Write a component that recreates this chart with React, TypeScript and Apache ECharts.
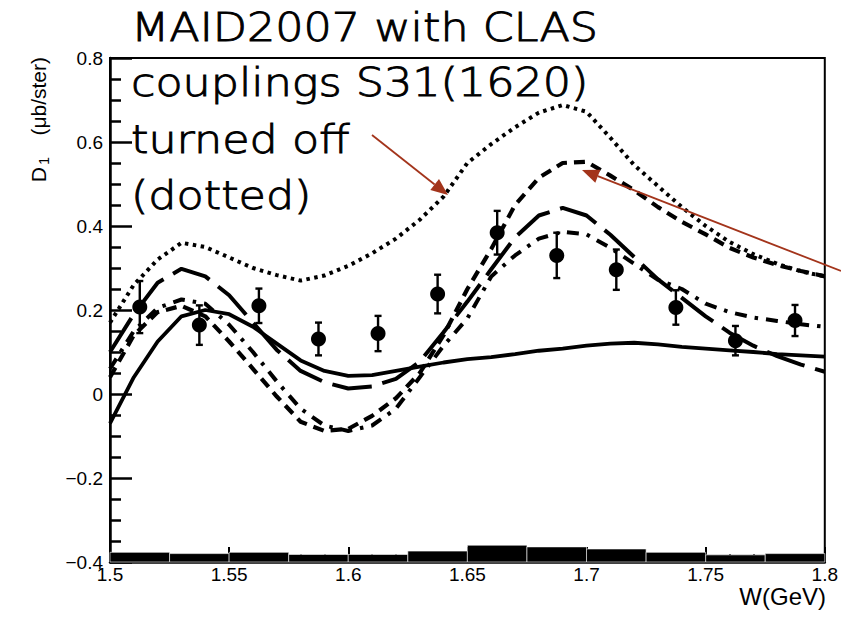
import React, { useEffect, useRef } from 'react';
import * as echarts from 'echarts';

// W grid (GeV) for the model curves
const W = [1.50, 1.51, 1.52, 1.53, 1.54, 1.55, 1.56, 1.57, 1.58, 1.59, 1.60, 1.61, 1.62, 1.63, 1.64, 1.65,
  1.66, 1.67, 1.68, 1.69, 1.70, 1.71, 1.72, 1.73, 1.74, 1.75, 1.76, 1.77, 1.78, 1.79, 1.80];

const solidCurve = [-0.07, 0.04, 0.125, 0.185, 0.2, 0.19, 0.16, 0.12, 0.08, 0.055, 0.043, 0.045, 0.055, 0.065, 0.075, 0.083,
  0.088, 0.095, 0.103, 0.108, 0.115, 0.12, 0.122, 0.118, 0.112, 0.108, 0.104, 0.1, 0.095, 0.092, 0.089];
const longDashCurve = [0.1, 0.19, 0.265, 0.298, 0.28, 0.235, 0.17, 0.105, 0.055, 0.028, 0.013, 0.018, 0.036, 0.077, 0.147, 0.22,
  0.297, 0.373, 0.425, 0.443, 0.425, 0.379, 0.326, 0.273, 0.229, 0.185, 0.146, 0.115, 0.09, 0.07, 0.053];
const dashedCurve = [0.04, 0.14, 0.195, 0.21, 0.185, 0.125, 0.06, -0.006, -0.066, -0.088, -0.083, -0.052, -0.01, 0.05, 0.14, 0.25,
  0.345, 0.45, 0.515, 0.55, 0.553, 0.52, 0.485, 0.445, 0.41, 0.38, 0.348, 0.325, 0.307, 0.293, 0.28];
const dashDotCurve = [0.06, 0.15, 0.205, 0.225, 0.215, 0.165, 0.1, 0.03, -0.035, -0.075, -0.088, -0.075, -0.035, 0.04, 0.115, 0.18,
  0.28, 0.33, 0.37, 0.386, 0.38, 0.348, 0.31, 0.272, 0.25, 0.215, 0.195, 0.182, 0.174, 0.166, 0.16];
const dottedCurve = [0.17, 0.26, 0.32, 0.36, 0.35, 0.325, 0.3, 0.283, 0.27, 0.282, 0.305, 0.335, 0.37, 0.415, 0.47, 0.55,
  0.595, 0.635, 0.67, 0.688, 0.672, 0.61, 0.545, 0.495, 0.445, 0.4, 0.362, 0.333, 0.31, 0.292, 0.28];

// CLAS data points
const dataW = [1.5125, 1.5375, 1.5625, 1.5875, 1.6125, 1.6375, 1.6625, 1.6875, 1.7125, 1.7375, 1.7625, 1.7875];
const dataD1 = [0.207, 0.164, 0.21, 0.131, 0.144, 0.238, 0.384, 0.33, 0.296, 0.206, 0.127, 0.175];
const dataErr = [0.062, 0.047, 0.041, 0.039, 0.042, 0.046, 0.052, 0.054, 0.048, 0.041, 0.035, 0.037];

// systematic error band (bins of 0.025 GeV)
const sysLow = [1.5, 1.525, 1.55, 1.575, 1.6, 1.625, 1.65, 1.675, 1.7, 1.725, 1.75, 1.775];
const sysHigh = [1.525, 1.55, 1.575, 1.6, 1.625, 1.65, 1.675, 1.7, 1.725, 1.75, 1.775, 1.8];
const sysHeight = [0.023, 0.02, 0.023, 0.018, 0.018, 0.026, 0.04, 0.036, 0.031, 0.023, 0.017, 0.02];

const Y_MIN = -0.4;
const Y_MAX = 0.8;

const annotationLines = ['MAID2007 with CLAS', 'couplings S31(1620)', 'turned off', '(dotted)'];

const ARROW = '#a3341b';

function arrow(x1: number, y1: number, x2: number, y2: number) {
  const dx = x2 - x1;
  const dy = y2 - y1;
  const len = Math.sqrt(dx * dx + dy * dy);
  const ux = dx / len;
  const uy = dy / len;
  const hl = 17;
  const hw = 7;
  const bx = x2 - ux * hl;
  const by = y2 - uy * hl;
  return [
    { type: 'line', z: 100, shape: { x1, y1, x2: bx, y2: by }, style: { stroke: ARROW, lineWidth: 1.8 } },
    {
      type: 'polygon', z: 100,
      shape: { points: [[x2, y2], [bx - uy * hw, by + ux * hw], [bx + uy * hw, by - ux * hw]] },
      style: { fill: ARROW },
    },
  ];
}

function fmtY(v: number) {
  if (Math.abs(v) < 1e-9) return '0';
  const s = parseFloat(v.toFixed(2)).toString();
  return s.replace('-', '\u2212');
}

export default function App() {
  const ref = useRef<HTMLDivElement>(null);
  useEffect(() => {
    const chart = echarts.init(ref.current!, null, { renderer: 'svg' });
    const lineSeries = (data: number[], type: any, width: number, z: number) => ({
      type: 'line',
      data: W.map((w, i) => [w, data[i]]),
      showSymbol: false,
      symbol: 'none',
      z,
      lineStyle: { color: '#000', width, type, cap: 'butt', opacity: 1 },
    });
    const option: any = {
      animation: false,
      backgroundColor: '#fff',
      grid: { left: 110, right: 14, top: 58, bottom: 57, show: true, borderColor: '#000', borderWidth: 2, backgroundColor: 'transparent' },
      xAxis: {
        type: 'value', min: 1.5, max: 1.8, interval: 0.05,
        axisLine: { show: true, onZero: false, lineStyle: { color: '#000', width: 2.5 } },
        axisTick: { show: true, inside: true, length: 15, lineStyle: { color: '#000', width: 2 } },
        minorTick: { show: true, splitNumber: 5, length: 8, lineStyle: { color: '#000', width: 2 } },
        splitLine: { show: false },
        axisLabel: {
          fontSize: 19, fontFamily: 'Liberation Sans', color: '#000', margin: 3,
          formatter: (v: number) => parseFloat(v.toFixed(2)).toString(),
        },
      },
      yAxis: {
        type: 'value', min: Y_MIN, max: Y_MAX, interval: 0.2,
        axisLine: { show: true, onZero: false, lineStyle: { color: '#000', width: 2.5 } },
        axisTick: { show: true, inside: true, length: 22, lineStyle: { color: '#000', width: 2.5 } },
        minorTick: { show: true, splitNumber: 4, length: 11, lineStyle: { color: '#000', width: 2.5 } },
        splitLine: { show: false },
        axisLabel: { fontSize: 19, fontFamily: 'Liberation Sans', color: '#000', margin: 7, formatter: fmtY },
      },
      series: [
        lineSeries(solidCurve, 'solid', 3.8, 3),
        lineSeries(longDashCurve, [40, 11], 4, 3),
        lineSeries(dashedCurve, [11, 7], 4.2, 3),
        lineSeries(dashDotCurve, [12, 8, 3.5, 8], 4, 3),
        lineSeries(dottedCurve, [3.5, 4.5], 4, 3),
        {
          type: 'custom',
          z: 4,
          data: sysLow.map((lo, i) => [lo, sysHigh[i], sysHeight[i]]),
          encode: { x: [0, 1], y: 2 },
          renderItem: (params: any, api: any) => {
            const p0 = api.coord([api.value(0), Y_MIN]);
            const p1 = api.coord([api.value(1), Y_MIN + api.value(2)]);
            return {
              type: 'rect',
              shape: { x: p0[0], y: p1[1], width: p1[0] - p0[0], height: p0[1] - p1[1] },
              style: { fill: '#000', stroke: '#fff', lineWidth: 0.6 },
            };
          },
        },
        {
          type: 'custom',
          z: 5,
          data: dataW.map((w, i) => [w, dataD1[i], dataErr[i]]),
          encode: { x: 0, y: 1 },
          renderItem: (params: any, api: any) => {
            const x = api.value(0), y = api.value(1), e = api.value(2);
            const top = api.coord([x, y + e]);
            const bot = api.coord([x, y - e]);
            const c = 3.5;
            const st = { stroke: '#000', lineWidth: 2.4 };
            return {
              type: 'group',
              children: [
                { type: 'line', shape: { x1: top[0], y1: top[1], x2: bot[0], y2: bot[1] }, style: st },
                { type: 'line', shape: { x1: top[0] - c, y1: top[1], x2: top[0] + c, y2: top[1] }, style: st },
                { type: 'line', shape: { x1: bot[0] - c, y1: bot[1], x2: bot[0] + c, y2: bot[1] }, style: st },
              ],
            };
          },
        },
        {
          type: 'scatter',
          z: 6,
          data: dataW.map((w, i) => [w, dataD1[i]]),
          symbol: 'circle',
          symbolSize: 15,
          itemStyle: { color: '#000', opacity: 1 },
        },
      ],
      graphic: [
        ...annotationLines.map((t, i) => ({
          type: 'text', z: 100,
          x: 131, y: [27, 82, 139, 195][i],
          scaleX: 1.14,
          style: {
            text: t, fontSize: 39, fontFamily: 'DejaVu Sans', fontWeight: 200, fill: '#000',
            stroke: '#000', lineWidth: 0.9,
            textAlign: 'left', textVerticalAlign: 'middle', align: 'left', verticalAlign: 'middle',
          },
        })),
        ...arrow(372, 135, 448, 195),
        ...arrow(841, 271, 582, 170),
        {
          type: 'group', x: 45, y: 57, rotation: Math.PI / 2, z: 100,
          children: [
            { type: 'text', x: 0, y: -7, style: { text: '(\u03bcb/ster)', fontSize: 21, fontFamily: 'Liberation Sans', fill: '#000', textAlign: 'right', textVerticalAlign: 'middle', align: 'right', verticalAlign: 'middle' } },
            { type: 'text', x: -100, y: -1, style: { text: '1', fontSize: 14, fontFamily: 'Liberation Sans', fill: '#000', textAlign: 'right', textVerticalAlign: 'middle', align: 'right', verticalAlign: 'middle' } },
            { type: 'text', x: -110, y: -7, style: { text: 'D', fontSize: 21, fontFamily: 'Liberation Sans', fill: '#000', textAlign: 'right', textVerticalAlign: 'middle', align: 'right', verticalAlign: 'middle' } },
          ],
        },
        {
          type: 'text', x: 826, y: 596, z: 100,
          style: { text: 'W(GeV)', fontSize: 24, fontFamily: 'Liberation Sans', fill: '#000', textAlign: 'right', textVerticalAlign: 'middle', align: 'right', verticalAlign: 'middle' },
        },
      ],
    };
    chart.setOption(option);
    return () => chart.dispose();
  }, []);
  return <div ref={ref} style={{ position: 'fixed', left: 0, top: 0, width: 841, height: 619 }} />;
}
